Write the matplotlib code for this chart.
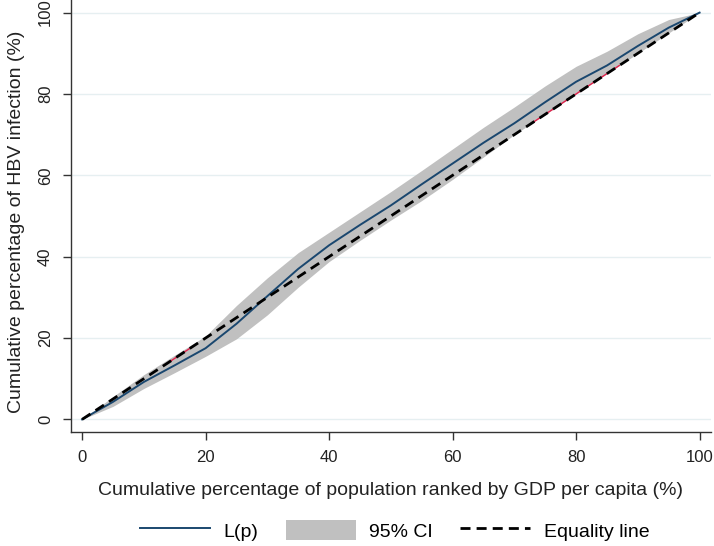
import numpy as np
import matplotlib
matplotlib.use("Agg")
import matplotlib.pyplot as plt
from matplotlib.patches import Patch
from matplotlib.lines import Line2D

plt.rcParams["font.family"] = ["Liberation Sans", "DejaVu Sans"]

# cumulative population share (%) ranked by GDP per capita
pop = [0, 5, 10, 15, 20, 25, 30, 35, 40, 45, 50, 55, 60, 65, 70, 75, 80, 85, 90, 95, 100]
# concentration curve L(p) and its 95% CI
lp = [0, 4.3, 9.2, 13.3, 17.5, 23.5, 30.3, 37.0, 42.8, 47.8, 52.6, 57.8, 62.9,
      68.0, 72.8, 78.0, 83.0, 87.0, 91.8, 96.3, 100]
ci_up = [0, 5.6, 11.0, 15.8, 20.5, 28.0, 34.8, 41.0, 46.0, 51.0, 56.0, 61.2, 66.5,
         71.8, 76.8, 82.0, 86.8, 90.5, 94.8, 98.3, 100]
ci_lo = [0, 3.2, 7.6, 11.5, 15.5, 19.8, 25.7, 32.5, 38.8, 44.0, 49.0, 53.8, 59.0,
         64.5, 70.0, 75.0, 80.0, 85.0, 90.0, 95.0, 100]
equality = [0, 100]
# small red traces visible under the equality line
red_a = [14, 18]
red_b = [73, 87]

navy = "#1a476f"
band = "#c0c0c0"
grid_c = "#e6eff1"
dash = (0, (3.6, 2.2))

fig = plt.figure(figsize=(7.14, 5.46), dpi=100)
ax = fig.add_axes([0.0994, 0.2088, 0.896, 0.7912])

ax.fill_between(pop, ci_lo, ci_up, color=band, linewidth=0, zorder=2)
ax.plot(red_a, red_a, color="#e0204a", linewidth=1.0, zorder=3)
ax.plot(red_b, red_b, color="#e0204a", linewidth=1.0, zorder=3)
ax.plot(pop, lp, color=navy, linewidth=1.4, zorder=4)
ax.plot(equality, equality, color="black", linestyle=dash, linewidth=2.0, zorder=5)

ax.set_xlim(-1.8, 101.8)
ax.set_ylim(-3.1, 103.1)
ax.set_xticks([0, 20, 40, 60, 80, 100])
ax.set_yticks([0, 20, 40, 60, 80, 100])
ax.yaxis.grid(True, color=grid_c, linewidth=1.0, zorder=0)
ax.set_axisbelow(True)

for s in ["top", "right"]:
    ax.spines[s].set_visible(False)
for s in ["left", "bottom"]:
    ax.spines[s].set_color("#333333")
    ax.spines[s].set_linewidth(1.0)

ax.tick_params(axis="both", direction="out", length=6, width=1.0, color="#333333",
               labelsize=12, labelcolor="#222222", pad=7)
for lab in ax.get_yticklabels():
    lab.set_rotation(90)
    lab.set_va("center")

ax.set_xlabel("Cumulative percentage of population ranked by GDP per capita (%)",
              fontsize=14, color="#222222", labelpad=12)
ax.set_ylabel("Cumulative percentage of HBV infection (%)", fontsize=14,
              color="#222222", labelpad=9.5, y=0.486)

handles = [
    Line2D([], [], color=navy, linewidth=1.4),
    Patch(facecolor=band, edgecolor="none"),
    Line2D([], [], color="black", linestyle=dash, linewidth=2.0),
]
fig.legend(handles, ["L(p)", "95% CI", "Equality line"], loc="lower center",
           bbox_to_anchor=(0.553, -0.022), ncol=3, frameon=False, fontsize=14,
           handlelength=3.6, handleheight=1.2, columnspacing=1.4, handletextpad=0.7)

fig.savefig("out.png", dpi=100)
